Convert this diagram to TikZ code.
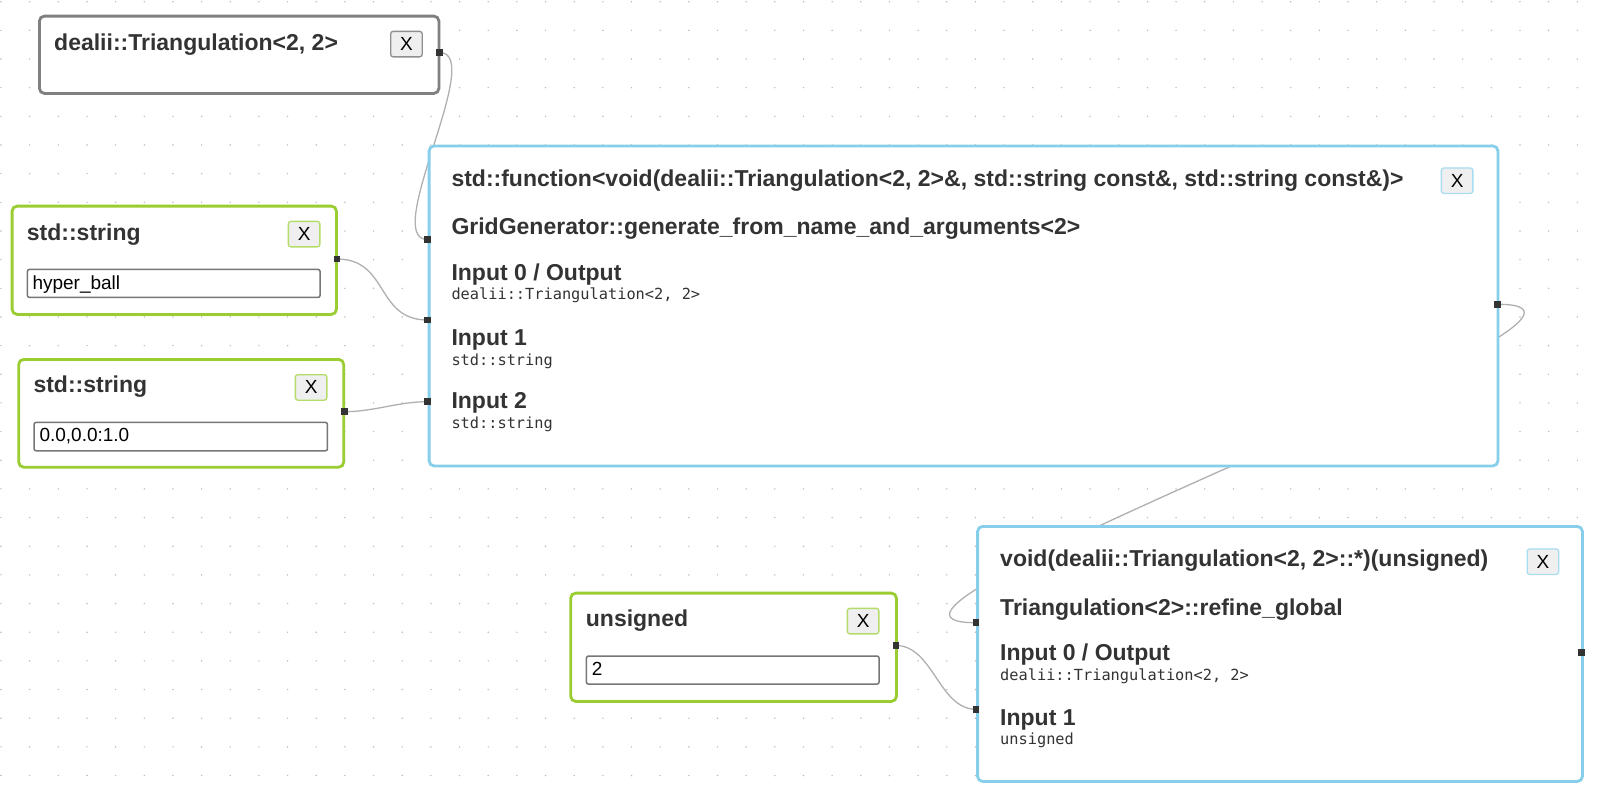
\documentclass[tikz,border=0pt]{standalone}
\usepackage{fontspec}
\setmainfont{Liberation Sans}
\newfontfamily\monof{DejaVu Sans Mono}
\pgfdeclarelayer{bg}
\pgfsetlayers{bg,main}
\definecolor{txt}{HTML}{333333}
\definecolor{greyb}{HTML}{808080}
\definecolor{greenb}{HTML}{9ACD32}
\definecolor{blueb}{HTML}{87CEEB}
\definecolor{btnfill}{HTML}{EFEFEF}
\definecolor{btngrey}{HTML}{8F8F8F}
\definecolor{btngreen}{HTML}{B5DC6A}
\definecolor{btnblue}{HTML}{A9DDF2}
\definecolor{edgec}{HTML}{B0B0B0}
\definecolor{portc}{HTML}{333333}
\definecolor{dotc}{HTML}{BBBBBB}
\definecolor{inpb}{HTML}{767676}
\tikzset{
  x=1pt, y=-1pt,
  box/.style={draw, line width=2.8, fill=white, rounded corners=5, rectangle, inner sep=0, anchor=north west},
  ttl/.style={font=\fontsize{23}{27}\selectfont\bfseries, text=txt, inner sep=0, anchor=base west},
  mono/.style={font=\fontsize{15.3}{18}\monof, text=txt, inner sep=0, anchor=base west},
  btn/.style={draw, fill=btnfill, rounded corners=2.5, line width=1.3, minimum width=31.5, minimum height=25.5, inner sep=0, font=\fontsize{19}{22}\selectfont, anchor=north west},
  inp/.style={draw=inpb, fill=white, rounded corners=2, line width=1.5, inner sep=0, anchor=north west},
  inptext/.style={font=\fontsize{19}{22}\selectfont, text=black, inner sep=0, anchor=base west},
  port/.style={fill=portc, draw=none, rectangle, minimum size=6.8, inner sep=0},
  edge/.style={draw=edgec, line width=1.3}
}
\begin{document}
\begin{tikzpicture}
\useasboundingbox (0,0) rectangle (1598,795);

% node 1: dealii::Triangulation
\node[box, draw=greyb, minimum width=399.5, minimum height=77.3] (n1) at (38,14.7) {};
\node[ttl] (n1t) at (54,50.7) {dealii::Triangulation<2, 2>};
\node[btn, draw=btngrey] (n1x) at (390,30.7) {X};
\node[port] (n1o) at (439.5,52.5) {};

% node 2: std::string hyper_ball
\node[box, draw=greenb, minimum width=324.3, minimum height=108.3] (n2) at (10.7,204.7) {};
\node[ttl] (n2t) at (26.7,240) {std::string};
\node[btn, draw=btngreen] (n2x) at (287.7,220.7) {X};
\node[inp, minimum width=292.6, minimum height=28] (n2i) at (26.7,268.7) {};
\node[inptext] (n2v) at (32.3,289) {hyper\_ball};
\node[port] (n2o) at (337,259) {};

% node 3: std::string 0.0,0.0:1.0
\node[box, draw=greenb, minimum width=325, minimum height=107.8] (n3) at (17.3,358) {};
\node[ttl] (n3t) at (33.3,392.7) {std::string};
\node[btn, draw=btngreen] (n3x) at (294.7,374) {X};
\node[inp, minimum width=293.4, minimum height=28.3] (n3i) at (33.3,421.7) {};
\node[inptext] (n3v) at (39.3,441.7) {0.0,0.0:1.0};
\node[port] (n3o) at (344.3,411.7) {};

% big node: std::function
\node[box, draw=blueb, minimum width=1068.8, minimum height=320] (bn) at (427.7,144.5) {};
\node[ttl] (bt1) at (451.3,186.7) {std::function<void(dealii::Triangulation<2, 2>\&, std::string const\&, std::string const\&)>};
\node[ttl] (bt2) at (451.3,234.3) {GridGenerator::generate\_from\_name\_and\_arguments<2>};
\node[ttl] (bl0) at (451.3,280) {Input 0 / Output};
\node[mono] (bm0) at (451.3,299.3) {dealii::Triangulation<2, 2>};
\node[ttl] (bl1) at (451.3,345) {Input 1};
\node[mono] (bm1) at (451.3,365) {std::string};
\node[ttl] (bl2) at (451.3,408.3) {Input 2};
\node[mono] (bm2) at (451.3,428.3) {std::string};
\node[btn, draw=btnblue] (bx) at (1440.7,167.3) {X};
\node[port] (bi0) at (427.5,239.5) {};
\node[port] (bi1) at (427.5,320) {};
\node[port] (bi2) at (427.5,401.7) {};
\node[port] (bo) at (1497.8,304.3) {};

% node 5: unsigned
\node[box, draw=greenb, minimum width=325.7, minimum height=108.3] (n5) at (569.3,591.7) {};
\node[ttl] (n5t) at (585.7,626.7) {unsigned};
\node[btn, draw=btngreen] (n5x) at (846.7,607.7) {X};
\node[inp, minimum width=292.6, minimum height=28] (n5i) at (585.7,655.3) {};
\node[inptext] (n5v) at (591.7,675) {2};
\node[port] (n5o) at (896,645.5) {};

% bottom node: refine_global
\node[box, draw=blueb, minimum width=604.8, minimum height=255] (rn) at (976.2,525) {};
\node[ttl] (rt1) at (1000,566.7) {void(dealii::Triangulation<2, 2>::*)(unsigned)};
\node[ttl] (rt2) at (1000,615) {Triangulation<2>::refine\_global};
\node[ttl] (rl0) at (1000,660.7) {Input 0 / Output};
\node[mono] (rm0) at (1000,680.7) {dealii::Triangulation<2, 2>};
\node[ttl] (rl1) at (1000,725) {Input 1};
\node[mono] (rm1) at (1000,744) {unsigned};
\node[btn, draw=btnblue] (rx) at (1526.5,548.3) {X};
\node[port] (ri0) at (976,622.7) {};
\node[port] (ri1) at (976,709.3) {};
\node[port] (ro) at (1581.3,652.5) {};

\begin{pgfonlayer}{bg}
\fill[white] (0,0) rectangle (1598,795);
\foreach \i in {0,...,55} {
  \foreach \j in {0,...,27} {
    \fill[dotc] ({1+28.66*\i},{1.7+28.66*\j}) circle (0.8);
  }
}
\draw[edge] (n1o.center) .. controls +(47,0) and +(-47,0) .. (bi0.center);
\draw[edge] (n2o.center) .. controls +(52,0) and +(-52,0) .. (bi1.center);
\draw[edge] (n3o.center) .. controls +(30,0) and +(-30,0) .. (bi2.center);
\draw[edge] (bo.center) .. controls +(190,0) and +(-190,0) .. (ri0.center);
\draw[edge] (n5o.center) .. controls +(37,0) and +(-37,0) .. (ri1.center);
\end{pgfonlayer}
\end{tikzpicture}
\end{document}
